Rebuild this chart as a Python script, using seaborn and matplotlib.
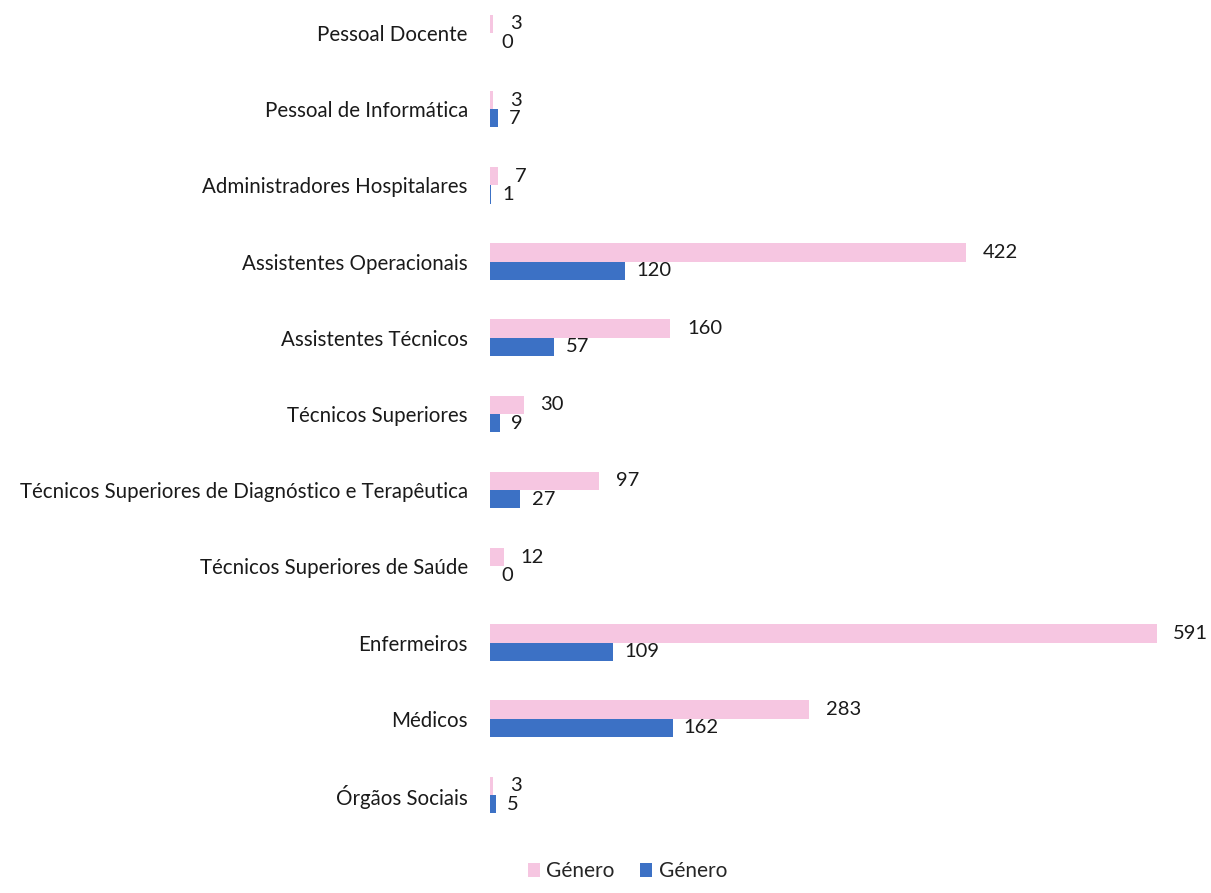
import matplotlib
matplotlib.use("Agg")
import matplotlib.pyplot as plt
import seaborn as sns
import pandas as pd
from matplotlib.patches import Patch

categories = ["Pessoal Docente", "Pessoal de Informática", "Administradores Hospitalares",
              "Assistentes Operacionais", "Assistentes Técnicos", "Técnicos Superiores",
              "Técnicos Superiores de Diagnóstico e Terapêutica", "Técnicos Superiores de Saúde",
              "Enfermeiros", "Médicos", "Órgãos Sociais"]
series_pink = [3, 3, 7, 422, 160, 30, 97, 12, 591, 283, 3]
series_blue = [0, 7, 1, 120, 57, 9, 27, 0, 109, 162, 5]
series_names = ["Género A", "Género B"]
legend_labels = ["Género", "Género"]

PINK = "#F6C6E1"
BLUE = "#3C71C5"

df = pd.DataFrame({
    "cat": categories * 2,
    "val": series_pink + series_blue,
    "serie": [series_names[0]] * len(categories) + [series_names[1]] * len(categories),
})

sns.set_theme(style="white")
plt.rcParams["font.family"] = ["Lato", "DejaVu Sans"]

fig = plt.figure(figsize=(12.11, 8.93), dpi=100)
ax = fig.add_axes([490 / 1211, (893 - 833) / 893, (1211 - 490) / 1211, 833 / 893])

sns.barplot(data=df, y="cat", x="val", hue="serie", order=categories,
            hue_order=series_names, palette=[PINK, BLUE], width=0.48,
            orient="h", ax=ax, legend=False, saturation=1, linewidth=0)

for cont, pad in zip(ax.containers, [12, 8]):
    ax.bar_label(cont, padding=pad, fontsize=14.5, color="#1a1a1a")

ax.set_xlim(0, 721 / 1.128)
ax.set_ylim(10.5, -0.433)
ax.set_xlabel("")
ax.set_ylabel("")
ax.set_xticks([])
ax.tick_params(axis="y", length=0, pad=16, labelsize=14.8, labelcolor="#1a1a1a")
for s in ax.spines.values():
    s.set_visible(False)

handles = [Patch(facecolor=PINK, edgecolor="none"), Patch(facecolor=BLUE, edgecolor="none")]
fig.legend(handles, legend_labels, loc="lower center", bbox_to_anchor=(0.518, -0.008),
           ncol=2, frameon=False, fontsize=15, handlelength=0.6, handleheight=0.6,
           handletextpad=0.3, columnspacing=1.2)

fig.savefig("out.png", dpi=100)
